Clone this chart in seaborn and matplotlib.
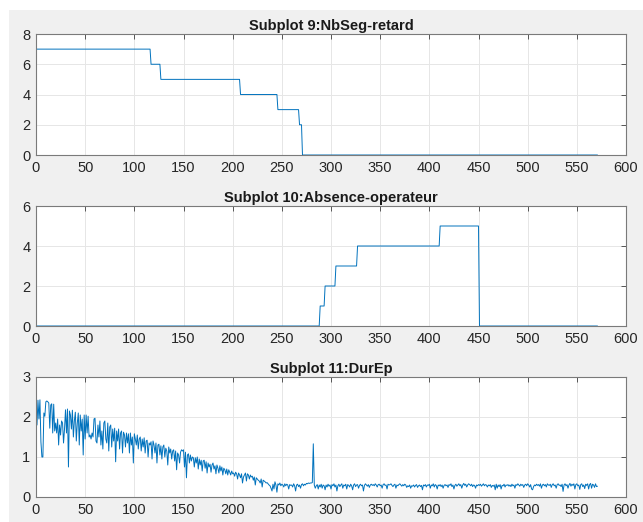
import matplotlib
matplotlib.use("Agg")
import matplotlib.pyplot as plt
import seaborn as sns
import pandas as pd
from matplotlib.patches import Rectangle

# <--- data --->
seg_x = [0, 116, 117, 126, 127, 207, 208, 245, 246, 267, 268, 270, 271, 571]
seg_y = [7, 7, 6, 6, 5, 5, 4, 4, 3, 3, 2, 2, 0, 0]

abs_x = [0, 288, 289, 293, 294, 304, 305, 326, 327, 410, 411, 450, 451, 571]
abs_y = [0, 0, 1, 1, 2, 2, 3, 3, 4, 4, 5, 5, 0, 0]

durep = [
    2.45, 1.80, 2.42, 1.95, 2.43, 1.38, 1.00, 1.00, 2.10, 2.02,
    2.38, 2.40, 2.38, 2.35, 1.72, 2.30, 2.33, 1.60, 2.32, 1.65,
    1.85, 1.60, 1.95, 1.30, 1.80, 1.55, 1.90, 1.85, 1.35, 1.70,
    2.18, 1.60, 2.20, 0.75, 2.15, 2.05, 1.70, 2.17, 1.50, 1.90,
    2.12, 1.40, 1.85, 2.10, 1.30, 2.05, 1.65, 1.95, 1.05, 2.05,
    1.45, 2.05, 1.60, 2.02, 1.50, 1.55, 1.45, 1.60, 1.50, 1.95,
    1.97, 1.40, 1.35, 1.80, 1.50, 1.90, 1.30, 1.65, 1.20, 1.85,
    1.90, 1.45, 1.35, 1.85, 1.15, 1.75, 1.80, 1.25, 1.70, 1.40,
    1.72, 0.88, 1.65, 1.40, 1.70, 1.20, 1.60, 1.65, 1.10, 1.62,
    1.55, 1.25, 1.60, 1.35, 1.58, 1.10, 1.60, 1.30, 1.50, 0.85,
    1.58, 1.45, 1.30, 1.55, 1.20, 1.45, 1.50, 1.15, 1.45, 1.25,
    1.48, 1.10, 1.40, 1.42, 1.00, 1.35, 1.30, 1.38, 0.95, 1.40,
    1.30, 1.10, 1.35, 0.85, 1.30, 1.32, 1.05, 1.28, 0.95, 1.25,
    1.30, 1.00, 1.22, 1.15, 0.80, 1.25, 1.10, 1.20, 0.95, 1.15,
    1.18, 0.90, 1.15, 0.68, 1.10, 1.05, 0.85, 1.12, 1.18, 1.15,
    1.18, 0.75, 1.12, 0.48, 1.05, 1.08, 0.85, 1.05, 0.90, 1.00,
    0.98, 0.75, 0.98, 0.85, 1.00, 0.70, 0.95, 0.80, 0.92, 0.65,
    0.90, 0.92, 0.72, 0.88, 0.60, 0.85, 0.75, 0.82, 0.62, 0.80,
    0.85, 0.70, 0.78, 0.58, 0.80, 0.72, 0.60, 0.78, 0.65, 0.75,
    0.55, 0.72, 0.68, 0.58, 0.70, 0.55, 0.68, 0.62, 0.55, 0.65,
    0.58, 0.60, 0.52, 0.62, 0.58, 0.45, 0.60, 0.55, 0.48, 0.58,
    0.35, 0.50, 0.55, 0.60, 0.40, 0.58, 0.55, 0.45, 0.55, 0.50,
    0.52, 0.42, 0.50, 0.30, 0.48, 0.45, 0.42, 0.40, 0.35, 0.45,
    0.25, 0.42, 0.40, 0.38, 0.35, 0.36, 0.33, 0.30, 0.28, 0.22,
    0.15, 0.32, 0.20, 0.38, 0.30, 0.12, 0.33, 0.30, 0.35, 0.28,
    0.32, 0.30, 0.25, 0.33, 0.28, 0.32, 0.30, 0.20, 0.31, 0.29,
    0.30, 0.25, 0.33, 0.28, 0.15, 0.30, 0.32, 0.26, 0.30, 0.22,
    0.31, 0.33, 0.28, 0.32, 0.30, 0.34, 0.33, 0.35, 0.34, 0.35,
    0.35, 0.36, 1.33, 0.30, 0.22, 0.28, 0.31, 0.20, 0.30, 0.25,
    0.32, 0.22, 0.30, 0.28, 0.18, 0.30, 0.25, 0.32, 0.27, 0.30,
    0.20, 0.31, 0.28, 0.33, 0.25, 0.30, 0.15, 0.28, 0.32, 0.26,
    0.30, 0.33, 0.22, 0.30, 0.28, 0.32, 0.20, 0.31, 0.29, 0.25,
    0.32, 0.28, 0.18, 0.30, 0.33, 0.26, 0.30, 0.31, 0.22, 0.29,
    0.32, 0.28, 0.30, 0.15, 0.29, 0.33, 0.30, 0.27, 0.31, 0.24,
    0.30, 0.32, 0.29, 0.31, 0.28, 0.33, 0.30, 0.25, 0.31, 0.32,
    0.28, 0.30, 0.22, 0.31, 0.33, 0.29, 0.30, 0.20, 0.32, 0.30,
    0.31, 0.33, 0.29, 0.26, 0.30, 0.32, 0.22, 0.30, 0.28, 0.31,
    0.33, 0.30, 0.27, 0.31, 0.28, 0.32, 0.30, 0.24, 0.28, 0.26,
    0.30, 0.22, 0.28, 0.27, 0.30, 0.25, 0.29, 0.31, 0.24, 0.28,
    0.30, 0.26, 0.29, 0.18, 0.30, 0.28, 0.31, 0.25, 0.30, 0.29,
    0.32, 0.22, 0.30, 0.28, 0.33, 0.25, 0.31, 0.29, 0.20, 0.30,
    0.28, 0.31, 0.26, 0.30, 0.22, 0.29, 0.31, 0.28, 0.30, 0.24,
    0.31, 0.29, 0.33, 0.26, 0.30, 0.20, 0.29, 0.32, 0.27, 0.30,
    0.33, 0.28, 0.31, 0.22, 0.30, 0.34, 0.29, 0.32, 0.25, 0.30,
    0.33, 0.31, 0.28, 0.32, 0.26, 0.30, 0.29, 0.22, 0.30, 0.28,
    0.31, 0.29, 0.32, 0.27, 0.30, 0.33, 0.28, 0.31, 0.30, 0.25,
    0.30, 0.28, 0.31, 0.24, 0.29, 0.27, 0.30, 0.18, 0.32, 0.22,
    0.30, 0.26, 0.31, 0.20, 0.29, 0.28, 0.32, 0.25, 0.30, 0.29,
    0.31, 0.27, 0.30, 0.26, 0.32, 0.28, 0.30, 0.22, 0.31, 0.29,
    0.33, 0.30, 0.27, 0.32, 0.29, 0.31, 0.24, 0.30, 0.32, 0.28,
    0.33, 0.30, 0.25, 0.31, 0.20, 0.18, 0.26, 0.30, 0.28, 0.32,
    0.29, 0.31, 0.27, 0.33, 0.22, 0.30, 0.32, 0.28, 0.31, 0.25,
    0.33, 0.30, 0.29, 0.32, 0.24, 0.31, 0.33, 0.28, 0.30, 0.22,
    0.31, 0.33, 0.29, 0.30, 0.26, 0.32, 0.14, 0.30, 0.33, 0.28,
    0.31, 0.22, 0.30, 0.34, 0.27, 0.32, 0.29, 0.33, 0.20, 0.31,
    0.33, 0.28, 0.30, 0.19, 0.31, 0.33, 0.26, 0.30, 0.21, 0.32,
    0.29, 0.33, 0.20, 0.31, 0.34, 0.22, 0.32, 0.30, 0.24, 0.33,
    0.26, 0.27,
]
durep_x = list(range(len(durep)))

titles = ["Subplot 9:NbSeg-retard", "Subplot 10:Absence-operateur", "Subplot 11:DurEp"]
x_ticks = list(range(0, 601, 50))
y_ticks = [[0, 2, 4, 6, 8], [0, 2, 4, 6], [0, 1, 2, 3]]

# <--- style --->
sns.set_style("white")
plt.rcParams["font.family"] = ["Liberation Sans", "DejaVu Sans"]
line_color = "#0072BD"

fig = plt.figure(figsize=(6.43, 5.22), dpi=100, facecolor="white")
fig.patches.append(Rectangle((9 / 643, 0), 1, 1 - 10 / 522, transform=fig.transFigure,
                             facecolor="#f0f0f0", edgecolor="none", zorder=-10))

left, width = 36 / 643, 590 / 643
boxes = [(34, 155), (206, 326), (377, 497)]
series = [
    pd.DataFrame({"x": seg_x, "y": seg_y}),
    pd.DataFrame({"x": abs_x, "y": abs_y}),
    pd.DataFrame({"x": durep_x, "y": durep}),
]

for i, (top, bot) in enumerate(boxes):
    ax = fig.add_axes([left, 1 - bot / 522, width, (bot - top) / 522])
    ax.set_facecolor("white")
    sns.lineplot(data=series[i], x="x", y="y", ax=ax, color=line_color,
                 linewidth=0.7, estimator=None)
    ax.set_xlim(0, 600)
    ax.set_ylim(y_ticks[i][0], y_ticks[i][-1])
    ax.set_xticks(x_ticks)
    ax.set_yticks(y_ticks[i])
    ax.set_xlabel("")
    ax.set_ylabel("")
    ax.grid(True, color="#e6e6e6", linewidth=0.7)
    ax.set_axisbelow(True)
    for s in ax.spines.values():
        s.set_color("#7a7a7a")
        s.set_linewidth(0.8)
    ax.tick_params(direction="in", length=3.5, width=0.7, color="#555555",
                   top=True, right=True, labelsize=10.5, labelcolor="#262626", pad=4)
    ax.set_title(titles[i], fontsize=10.5, fontweight="bold", color="#1a1a1a", pad=3)

fig.savefig("out.png", dpi=100, facecolor=fig.get_facecolor())
